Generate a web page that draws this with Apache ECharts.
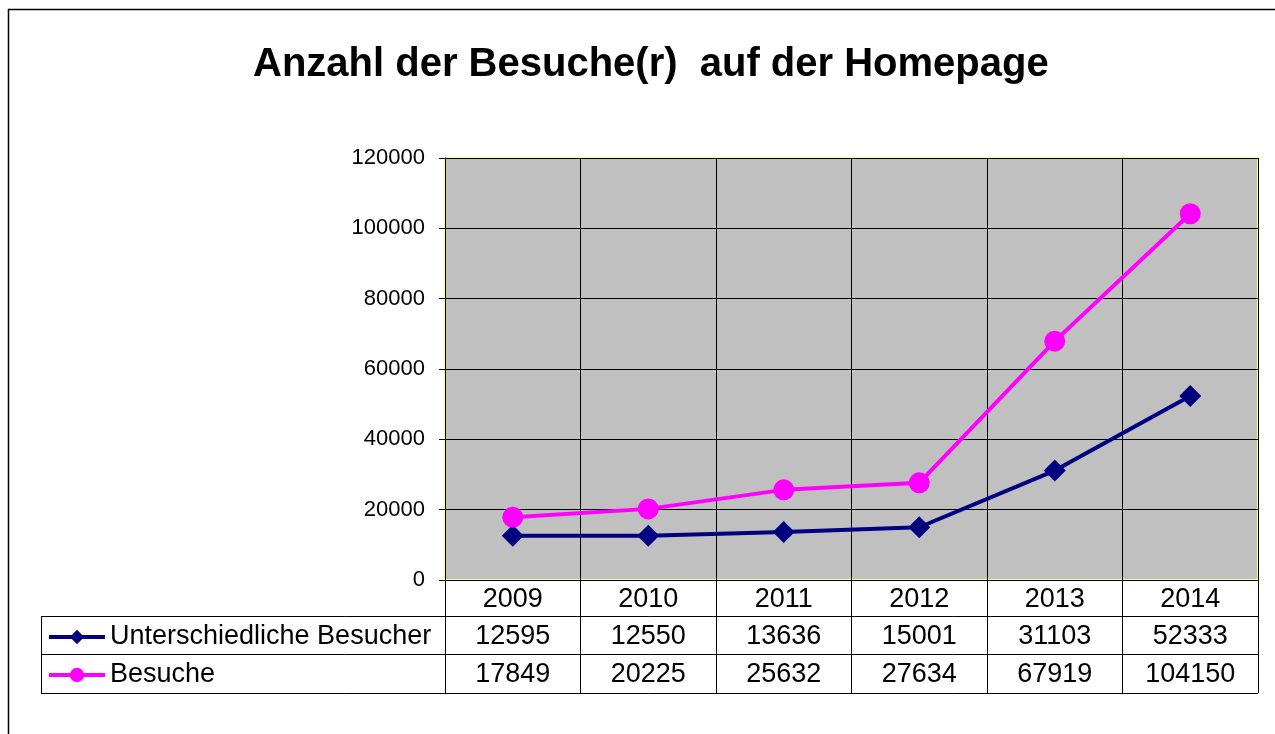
<!DOCTYPE html>
<html>
<head>
<meta charset="utf-8">
<script src="https://cdn.jsdelivr.net/npm/echarts@6/dist/echarts.min.js"></script>
<style>
html, body { margin: 0; padding: 0; background: #fff; }
#chart { width: 1275px; height: 734px; }
</style>
</head>
<body>
<div id="chart"></div>
<script>
var years = ['2009', '2010', '2011', '2012', '2013', '2014'];
var besucher = [12595, 12550, 13636, 15001, 31103, 52333];
var besuche = [17849, 20225, 25632, 27634, 67919, 104150];
var yTicks = [0, 20000, 40000, 60000, 80000, 100000, 120000];

var chart = echarts.init(document.getElementById('chart'));
var font = "'Liberation Sans', Arial, sans-serif";

var option = {
    backgroundColor: '#ffffff',
    animation: false,
    title: {
        text: 'Anzahl der Besuche(r)  auf der Homepage',
        left: 248,
        top: 40,
        textStyle: { fontFamily: font, fontSize: 40, fontWeight: 'bold', color: '#000' }
    },
    legend: {
        orient: 'vertical',
        left: 42,
        top: 617,
        itemWidth: 56,
        itemHeight: 18,
        itemGap: 8,
        lineStyle: { width: 4 },
        textStyle: { fontFamily: font, fontSize: 27, color: '#000', lineHeight: 30 },
        data: ['Unterschiedliche Besucher', 'Besuche']
    },
    grid: {
        left: 445,
        right: 17,
        top: 158,
        bottom: 154,
        show: true,
        backgroundColor: '#C0C0C0',
        borderColor: '#FFFF80',
        borderWidth: 2
    },
    xAxis: [
        {
            type: 'category',
            data: years,
            boundaryGap: true,
            axisLine: { lineStyle: { color: '#000', width: 1 } },
            axisTick: { show: true, interval: 0, length: 113, lineStyle: { color: '#000', width: 1 } },
            splitLine: { show: true, interval: 0, lineStyle: { color: '#000', width: 1 } },
            axisLabel: { interval: 0, margin: 6, fontFamily: font, fontSize: 27, color: '#000' }
        },
        {
            type: 'category',
            position: 'bottom',
            offset: 36,
            data: besucher.map(String),
            axisLine: { show: false },
            axisTick: { show: false },
            splitLine: { show: false },
            axisLabel: { interval: 0, margin: 7, fontFamily: font, fontSize: 27, color: '#000' }
        },
        {
            type: 'category',
            position: 'bottom',
            offset: 74,
            data: besuche.map(String),
            axisLine: { show: false },
            axisTick: { show: false },
            splitLine: { show: false },
            axisLabel: { interval: 0, margin: 7, fontFamily: font, fontSize: 27, color: '#000' }
        }
    ],
    yAxis: {
        type: 'value',
        min: yTicks[0],
        max: yTicks[yTicks.length - 1],
        interval: 20000,
        axisLine: { show: true, lineStyle: { color: '#000', width: 1 } },
        axisTick: { show: true, length: 6, lineStyle: { color: '#000' } },
        splitLine: { show: true, lineStyle: { color: '#000', width: 1 } },
        axisLabel: {
            margin: 20, fontFamily: font, fontSize: 22, color: '#000',
            formatter: function (v) { return String(v); }
        }
    },
    series: [
        {
            name: 'Unterschiedliche Besucher',
            type: 'line',
            data: besucher,
            symbol: 'diamond',
            symbolSize: 22,
            lineStyle: { color: '#000080', width: 4 },
            itemStyle: { color: '#000080' },
            z: 3
        },
        {
            name: 'Besuche',
            type: 'line',
            data: besuche,
            symbol: 'circle',
            symbolSize: 21,
            lineStyle: { color: '#FF00FF', width: 4 },
            itemStyle: { color: '#FF00FF' },
            z: 4
        }
    ],
    graphic: [
        // outer frame
        { type: 'rect', shape: { x: 8.5, y: 9.5, width: 1400, height: 900 }, style: { fill: 'none', stroke: '#000', lineWidth: 1.5 }, silent: true },
        // data table lines
        { type: 'line', shape: { x1: 41, y1: 616.5, x2: 1258, y2: 616.5 }, style: { stroke: '#000', lineWidth: 1 } },
        { type: 'line', shape: { x1: 41, y1: 654.5, x2: 1258, y2: 654.5 }, style: { stroke: '#000', lineWidth: 1 } },
        { type: 'line', shape: { x1: 41, y1: 693.5, x2: 1258, y2: 693.5 }, style: { stroke: '#000', lineWidth: 1 } },
        { type: 'line', shape: { x1: 41.5, y1: 616, x2: 41.5, y2: 694 }, style: { stroke: '#000', lineWidth: 1 } }
    ]
};

chart.setOption(option);
</script>
</body>
</html>
